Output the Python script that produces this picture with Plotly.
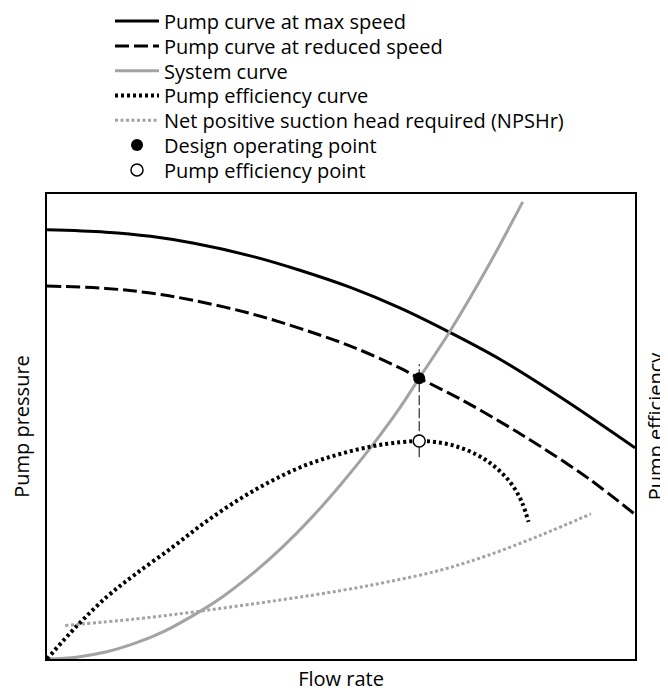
import plotly.graph_objects as go

# ---- data (normalised flow 0..1, normalised pressure / efficiency 0..1) ----
flow_max = [0, 0.1, 0.176, 0.25, 0.346, 0.43, 0.516, 0.6, 0.684, 0.771, 0.878, 1.0]
head_max = [0.923, 0.918, 0.909, 0.894, 0.867, 0.836, 0.799, 0.755, 0.703, 0.644, 0.559, 0.454]

flow_red = [0, 0.1, 0.176, 0.25, 0.346, 0.43, 0.516, 0.6, 0.633, 0.7, 0.771, 0.838, 0.92, 1.0]
head_red = [0.802, 0.797, 0.787, 0.771, 0.743, 0.711, 0.673, 0.626, 0.604, 0.561, 0.510, 0.458, 0.389, 0.311]

flow_sys = [0, 0.05, 0.1, 0.15, 0.2, 0.261, 0.3, 0.35, 0.4, 0.45, 0.5, 0.55, 0.6, 0.633, 0.684, 0.75, 0.809]
head_sys = [0, 0.004, 0.015, 0.034, 0.060, 0.103, 0.135, 0.184, 0.240, 0.304, 0.376, 0.454, 0.540,
            0.604, 0.702, 0.844, 0.983]

flow_eff = [0, 0.05, 0.102, 0.15, 0.215, 0.27, 0.329, 0.385, 0.442, 0.499, 0.555, 0.6, 0.633,
            0.665, 0.697, 0.73, 0.754, 0.775, 0.793, 0.808, 0.819]
eff = [0, 0.070, 0.134, 0.182, 0.242, 0.295, 0.345, 0.385, 0.418, 0.441, 0.458, 0.466, 0.469,
       0.466, 0.457, 0.440, 0.421, 0.398, 0.371, 0.336, 0.295]

flow_npsh = [0.031, 0.15, 0.261, 0.397, 0.499, 0.58, 0.669, 0.75, 0.839, 0.925]
npsh = [0.072, 0.086, 0.103, 0.127, 0.147, 0.166, 0.191, 0.223, 0.266, 0.312]

design_flow = [0.633]
design_head = [0.604]
eff_point_flow = [0.633]
eff_point_val = [0.469]
guide_flow = [0.633, 0.633]
guide_val = [0.434, 0.634]

names = [
    "Pump curve at max speed",
    "Pump curve at reduced speed",
    "System curve",
    "Pump efficiency curve",
    "Net positive suction head required (NPSHr)",
    "Design operating point",
    "Pump efficiency point",
]

FONT = "Open Sans"
FS = 20
GREY = "#a3a3a3"
W, H = 668, 691

legend_ids = ["legend"] + [f"legend{i}" for i in range(2, 8)]

fig = go.Figure()
fig.add_trace(go.Scatter(x=flow_max, y=head_max, mode="lines", name=names[0], legend=legend_ids[0],
                         line=dict(color="black", width=3, shape="spline")))
fig.add_trace(go.Scatter(x=flow_red, y=head_red, mode="lines", name=names[1], legend=legend_ids[1],
                         line=dict(color="black", width=3, dash="14px,5px", shape="spline")))
fig.add_trace(go.Scatter(x=flow_sys, y=head_sys, mode="lines", name=names[2], legend=legend_ids[2],
                         line=dict(color=GREY, width=3, shape="spline")))
fig.add_trace(go.Scatter(x=flow_eff, y=eff, mode="lines", name=names[3], yaxis="y2", legend=legend_ids[3],
                         line=dict(color="black", width=4, dash="3px,3px", shape="spline")))
fig.add_trace(go.Scatter(x=flow_npsh, y=npsh, mode="lines", name=names[4], legend=legend_ids[4],
                         line=dict(color=GREY, width=3, dash="3px,2.5px", shape="spline")))
fig.add_trace(go.Scatter(x=guide_flow, y=guide_val, mode="lines", showlegend=False,
                         line=dict(color="black", width=1, dash="10px,3px")))
fig.add_trace(go.Scatter(x=design_flow, y=design_head, mode="markers", name=names[5], legend=legend_ids[5],
                         marker=dict(color="black", size=12, line=dict(width=0))))
fig.add_trace(go.Scatter(x=eff_point_flow, y=eff_point_val, mode="markers", name=names[6],
                         yaxis="y2", legend=legend_ids[6],
                         marker=dict(color="white", size=12, line=dict(color="black", width=1.5))))

axis_common = dict(range=[0, 1], showgrid=False, zeroline=False, showticklabels=False,
                   ticks="", automargin=False, fixedrange=True)

# the page body adds an 8px offset; margins compensate for it
ML, MR, MT, MB = 39, 41, 186, 40
plot_w = W - ML - MR
leg_x = (102 - ML) / plot_w
row_y = [13.1 + 24.8 * i for i in range(7)]

layout_legends = {}
for lid, ry in zip(legend_ids, row_y):
    layout_legends[lid] = dict(
        x=leg_x, y=1 - ry / H, xref="paper", yref="container",
        xanchor="left", yanchor="middle", bgcolor="rgba(0,0,0,0)",
        font=dict(family=FONT, size=FS, color="black"),
        itemwidth=44, borderwidth=0,
    )

fig.update_layout(
    width=W, height=H,
    template="none",
    paper_bgcolor="white", plot_bgcolor="white",
    margin=dict(l=ML, r=MR, t=MT, b=MB, pad=0),
    font=dict(family=FONT, size=FS, color="black"),
    xaxis=dict(**axis_common, showline=True, linecolor="black", linewidth=1.5, mirror=True,
               title=dict(text="Flow rate", font=dict(size=FS), standoff=12)),
    yaxis=dict(**axis_common, showline=True, linecolor="black", linewidth=1.5, mirror=True,
               title=dict(text="Pump pressure", font=dict(size=FS), standoff=22)),
    yaxis2=dict(**axis_common, overlaying="y", side="right", showline=False,
                title=dict(text="Pump efficiency", font=dict(size=FS), standoff=13)),
    showlegend=True,
    **layout_legends,
)

fig.write_html("out.html")
